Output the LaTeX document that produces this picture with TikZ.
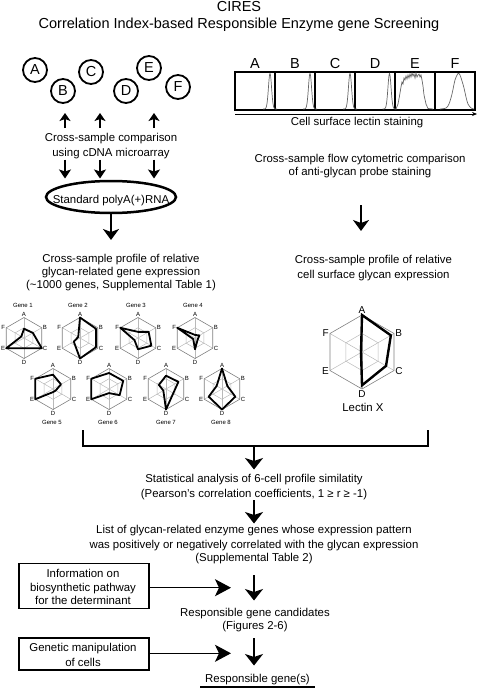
\documentclass[tikz,border=0pt]{standalone}
\usepackage{fontspec}
\setmainfont{Liberation Sans}
\usetikzlibrary{arrows.meta,shapes.geometric}
\newcommand\bodyfont{\fontsize{11.4}{13.4}\selectfont}
\newcommand\bigfont{\fontsize{14.5}{16}\selectfont}
\newcommand\radgrid[5]{%
  \draw[gridin] ({#2+#4/2*cos(90)},{#3-#4/2*sin(90)}) -- ({#2+#4/2*cos(30)},{#3-#4/2*sin(30)}) -- ({#2+#4/2*cos(-30)},{#3-#4/2*sin(-30)}) -- ({#2+#4/2*cos(-90)},{#3-#4/2*sin(-90)}) -- ({#2+#4/2*cos(-150)},{#3-#4/2*sin(-150)}) -- ({#2+#4/2*cos(150)},{#3-#4/2*sin(150)}) -- cycle;
  \foreach \ang in {90,30,-30}{\draw[gridin] ({#2+#4*cos(\ang)},{#3-#4*sin(\ang)}) -- ({#2-#4*cos(\ang)},{#3+#4*sin(\ang)});}
  \draw[gridout] ({#2+#4*cos(90)},{#3-#4*sin(90)}) -- ({#2+#4*cos(30)},{#3-#4*sin(30)}) -- ({#2+#4*cos(-30)},{#3-#4*sin(-30)}) -- ({#2+#4*cos(-90)},{#3-#4*sin(-90)}) -- ({#2+#4*cos(-150)},{#3-#4*sin(-150)}) -- ({#2+#4*cos(150)},{#3-#4*sin(150)}) -- cycle;
  \foreach \ang/\lab/\anc in {90/A/south,30/B/west,-30/C/west,-90/D/north,-150/E/east,150/F/east}
    {\node[font=#5, inner sep=0pt, anchor=\anc] (#1\lab) at ({#2+(#4+1.2)*cos(\ang)},{#3-(#4+1.2)*sin(\ang)}) {\lab};}
}
\newcommand\raddata[9]{%
  \draw[dataline] ({#1+#3*#4*cos(90)},{#2-#3*#4*sin(90)}) -- ({#1+#3*#5*cos(30)},{#2-#3*#5*sin(30)}) -- ({#1+#3*#6*cos(-30)},{#2-#3*#6*sin(-30)}) -- ({#1+#3*#7*cos(-90)},{#2-#3*#7*sin(-90)}) -- ({#1+#3*#8*cos(-150)},{#2-#3*#8*sin(-150)}) -- ({#1+#3*#9*cos(150)},{#2-#3*#9*sin(150)}) -- cycle;
}
\begin{document}
\begin{tikzpicture}[x=1pt,y=-1pt,
  txt/.style={font=\bodyfont, anchor=base, inner sep=0pt},
  ttl/.style={font=\bigfont, anchor=base, inner sep=0pt},
  small/.style={font=\fontsize{6}{7}\selectfont, anchor=base, inner sep=0pt},
  cell/.style={circle, draw, line width=1.8pt, minimum size=24pt, inner sep=0pt, font=\bigfont},
  hbox/.style={draw, line width=1.3pt, minimum width=40pt, minimum height=38pt, inner sep=0pt},
  infobox/.style={draw, line width=1.4pt, minimum width=130pt, inner sep=0pt},
  arrS/.style={line width=1.4pt, -{Stealth[length=8pt,width=11pt,inset=2pt]}},
  arrM/.style={line width=1.5pt, -{Stealth[length=11pt,width=16pt,inset=3pt]}},
  arrL/.style={line width=1.5pt, -{Stealth[length=11.5pt,width=18pt,inset=3pt]}},
  arrH/.style={line width=1.5pt, -{Stealth[length=16pt,width=17pt,inset=4pt]}},
  gridout/.style={draw=gray, line width=0.6pt},
  gridin/.style={draw=gray!55, line width=0.5pt},
  dataline/.style={line width=1.8pt, line join=round},
  hist/.style={draw=black!60, line width=0.7pt},
]
\useasboundingbox (0,0) rectangle (478,688);

% title
\node[ttl] (t1) at (239,11.5) {CIRES};
\node[ttl] (t2) at (239,28.3) {Correlation Index-based Responsible Enzyme gene Screening};

% cells
\node[cell] (cA) at (35,70) {A};
\node[cell] (cB) at (63,91) {B};
\node[cell] (cC) at (91,72) {C};
\node[cell] (cD) at (126,91) {D};
\node[cell] (cE) at (149,68) {E};
\node[cell] (cF) at (178,87) {F};

\node[txt] (cs1) at (111,141.7) {Cross-sample comparison};
\node[txt] (cs2) at (111,156.2) {using cDNA microarray};

\foreach \x [count=\i] in {65,100,154}{
  \coordinate (ub\i) at (\x,128);
  \coordinate (ut\i) at (\x,113);
  \draw[arrS] (ub\i) -- (ut\i);
  \coordinate (db\i) at (\x,159.5);
  \coordinate (dt\i) at (\x,178.5);
  \draw[arrS, -{Stealth[length=9pt,width=12pt,inset=2pt]}] (db\i) -- (dt\i);
}

\node[ellipse, draw, line width=2.5pt, minimum width=130pt, minimum height=32pt, inner sep=0pt] (rna) at (111,197) {};
\node[txt] (rnatxt) at (111,203) {Standard polyA(+)RNA};
\coordinate (rnaT) at (111,240);
\draw[arrM] (rna.south) -- (rnaT);

\node[txt] (gp1) at (121,262) {Cross-sample profile of relative};
\node[txt] (gp2) at (121,275.4) {glycan-related gene expression};
\node[txt] (gp3) at (121,288.8) {(\textasciitilde1000 genes, Supplemental Table 1)};

% histogram panel
\foreach \l [count=\i] in {A,B,C,D,E,F}{
  \node[hbox] (h\l) at ({215+40*\i},91) {};
  \node[ttl] (hl\l) at ({215+40*\i},68.3) {\l};
}
\foreach \p/\a/\b in {270/263/277,310/303/317,350/343/357,389.5/382.5/396.5}{
  \draw[hist] plot[domain=\a:\b, samples=41, smooth] (\x,{109-35.5*exp(-((\x-\p)/2.2)^2)});
}
\draw[hist] plot coordinates {(396,109)(398,104)(399.5,96)(401,87)(402,82)(403,84)(404,78)(405,80)(406,76)(407,79)(408,75)(409,78)(410,74)(411,77)(412,73)(413,76)(414,74)(415,78)(416,73)(417,77)(418,75)(419,74)(420,77)(421,75)(422,80)(423,86)(424,95)(426,104)(428,108.5)(433,109)};
\draw[hist] plot[smooth] coordinates {(440,109)(446,108)(449,104)(452,94)(455,80)(458,73.5)(460,75)(462,81)(464,88)(466,97)(468,104)(471,108)(474,109)};
\coordinate (axL) at (235,114);
\coordinate (axR) at (477,114);
\draw[line width=0.7pt, -{Stealth[length=5pt,width=4pt]}] (axL) -- (axR);
\node[txt] (cls) at (357,125.7) {Cell surface lectin staining};

\node[txt] (fc1) at (360,162) {Cross-sample flow cytometric comparison};
\node[txt] (fc2) at (360,175.4) {of anti-glycan probe staining};
\coordinate (fcB) at (361,205);
\coordinate (fcT) at (361,231);
\draw[arrM] (fcB) -- (fcT);
\node[txt] (cp1) at (373.5,263.7) {Cross-sample profile of relative};
\node[txt] (cp2) at (373.5,278) {cell surface glycan expression};

% lectin radar
\radgrid{L}{362}{352}{37}{\fontsize{10}{11}\selectfont}
\begin{scope}[dataline/.style={line width=2.4pt, line join=miter}]
\raddata{362}{352}{37}{1}{0.9}{0.75}{0.9}{0.03}{0.03}
\end{scope}
\node[txt] (lx) at (363,411) {Lectin X};

% gene radars
\radgrid{ga}{24}{338}{20.5}{\fontsize{6}{7}\selectfont}
\raddata{24}{338}{20.5}{0.45}{0.5}{1}{0.5}{1}{0.15}
\radgrid{gb}{80}{338}{20.5}{\fontsize{6}{7}\selectfont}
\raddata{80}{338}{20.5}{1}{0.9}{0.9}{1}{0.35}{0.1}
\radgrid{gc}{138}{338}{20.5}{\fontsize{6}{7}\selectfont}
\raddata{138}{338}{20.5}{0.3}{0.6}{0.75}{0.55}{0.2}{1}
\radgrid{gd}{195}{338}{20.5}{\fontsize{6}{7}\selectfont}
\raddata{195}{338}{20.5}{0.15}{0.25}{0.15}{0.55}{0.1}{1}
\radgrid{ge}{53}{389}{20.5}{\fontsize{6}{7}\selectfont}
\raddata{53}{389}{20.5}{0.7}{0.45}{0.15}{0.15}{1}{1}
\radgrid{gf}{109}{389}{20.5}{\fontsize{6}{7}\selectfont}
\raddata{109}{389}{20.5}{0.78}{0.8}{0.6}{0.2}{1}{1}
\radgrid{gg}{166}{389}{20.5}{\fontsize{6}{7}\selectfont}
\raddata{166}{389}{20.5}{0.65}{0.7}{0.41}{1}{0.15}{0.4}
\radgrid{gh}{222}{389}{20.5}{\fontsize{6}{7}\selectfont}
\raddata{222}{389}{20.5}{1}{0.3}{0.75}{1}{0.75}{0.3}
\node[small] (n1) at (23,307.2) {Gene 1};
\node[small] (n2) at (78,307.2) {Gene 2};
\node[small] (n3) at (136,307.2) {Gene 3};
\node[small] (n4) at (193,307.2) {Gene 4};
\node[small] (n5) at (52,424) {Gene 5};
\node[small] (n6) at (108,424) {Gene 6};
\node[small] (n7) at (166,424) {Gene 7};
\node[small] (n8) at (221,424) {Gene 8};

% bracket
\coordinate (brL) at (83,430);
\coordinate (brLb) at (83,446);
\coordinate (brRb) at (428,446);
\coordinate (brR) at (428,430);
\coordinate (brM) at (254,446);
\draw[line width=1.5pt] (brL) -- (brLb) -- (brRb) -- (brR);
\coordinate (s1T) at (254,469.5);
\draw[arrL] (brM) -- (s1T);

\node[txt] (st1) at (254,482) {Statistical analysis of 6-cell profile similatity};
\node[txt] (st2) at (254,497) {(Pearson's correlation coefficients, 1 ≥ r ≥ -1)};
\coordinate (s2B) at (254,500);
\coordinate (s2T) at (254,523.5);
\draw[arrL] (s2B) -- (s2T);

\node[txt] (ls1) at (254,533.7) {List of glycan-related enzyme genes whose expression pattern};
\node[txt] (ls2) at (254,548) {was positively or negatively correlated with the glycan expression};
\node[txt] (ls3) at (254,561.4) {(Supplemental Table 2)};

\node[infobox, minimum height=45pt] (info) at (84,585.8) {};
\node[txt] (if1) at (83,577) {Information on};
\node[txt] (if2) at (83,591.4) {biosynthetic pathway};
\node[txt] (if3) at (83,604.4) {for the determinant};
\coordinate (h1T) at (231,587.7);
\draw[arrH] (info.east |- h1T) -- (h1T);
\coordinate (s3B) at (254,575);
\coordinate (s3T) at (254,600.5);
\draw[arrL] (s3B) -- (s3T);

\node[txt] (rc1) at (255,616) {Responsible gene candidates};
\node[txt] (rc2) at (255,629.4) {(Figures 2-6)};

\node[infobox, minimum height=32pt] (gen) at (84,654) {};
\node[txt] (gm1) at (83,651.4) {Genetic manipulation};
\node[txt] (gm2) at (83,666) {of cells};
\coordinate (h2T) at (231,653.3);
\draw[arrH] (gen.east |- h2T) -- (h2T);
\coordinate (s4B) at (254,638.3);
\coordinate (s4T) at (254,665.5);
\draw[arrL] (s4B) -- (s4T);

\node[txt] (rg) at (257.5,682.7) {Responsible gene(s)};
\coordinate (ulL) at (200,687);
\coordinate (ulR) at (315,687);
\draw[line width=1.3pt] (ulL) -- (ulR);
\end{tikzpicture}
\end{document}
